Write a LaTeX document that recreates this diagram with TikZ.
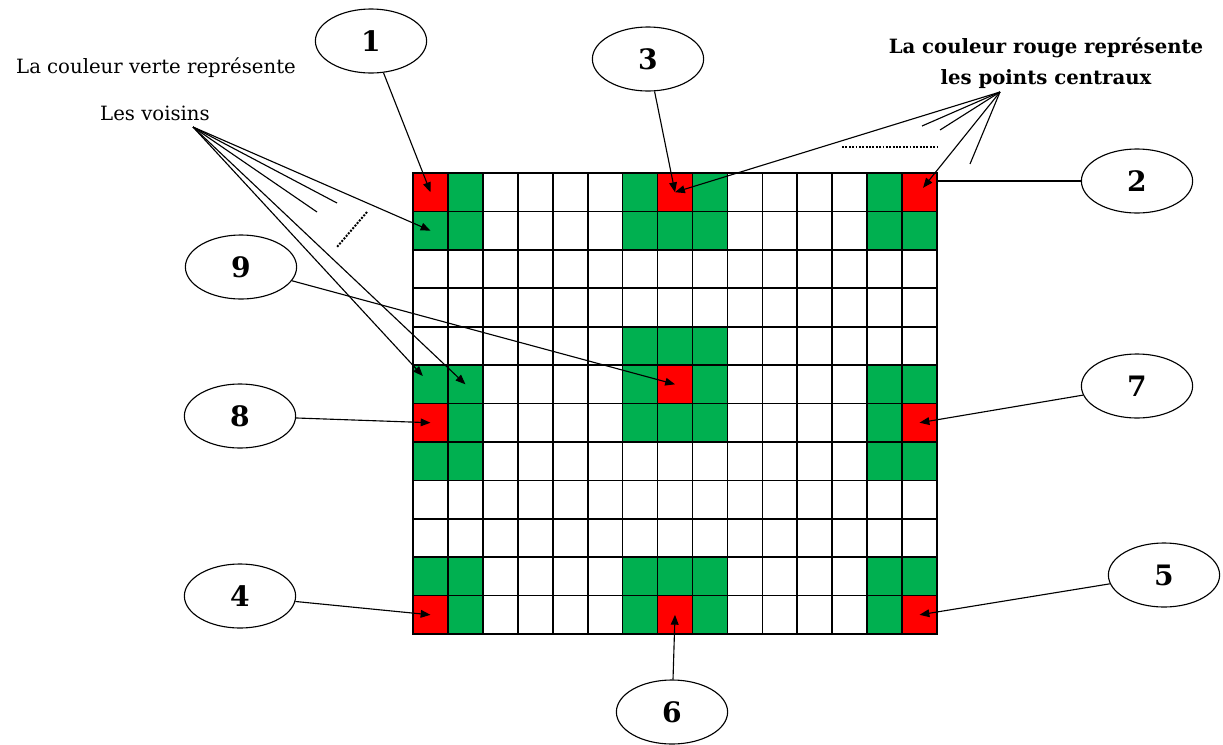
\documentclass[tikz,border=0pt]{standalone}
\usepackage{fontspec}
\setmainfont{DejaVu Serif}
\usetikzlibrary{arrows.meta, positioning, shapes.geometric}
\definecolor{voisgreen}{RGB}{0,176,80}
\definecolor{centred}{RGB}{255,0,0}

\begin{document}
\begin{tikzpicture}[
  x=0.025cm, y=-0.025cm,
  cell/.style={
    rectangle, draw, line width=1.2pt,
    minimum width=0.873cm, minimum height=0.9605cm,
    inner sep=0pt, outer sep=0pt
  },
  num/.style={
    ellipse, draw, line width=0.8pt,
    minimum width=2.78cm, minimum height=1.6cm,
    font=\fontsize{20}{20}\selectfont\bfseries
  },
  label/.style={font=\fontsize{14}{18}\selectfont, inner sep=0pt},
  pointer/.style={-{Triangle[length=7pt,width=5.5pt]}, line width=0.8pt},
  tick/.style={line width=0.8pt},
  etc/.style={densely dotted, line width=1.4pt}
]
  \useasboundingbox (0,0) rectangle (1223,744);

  % Grid 12 x 15
  \foreach \r in {0,...,11}
    \foreach \c in {0,...,14}
      \node[cell] (c-\r-\c) at ({430.5+34.93*\c},{192.2+38.42*\r}) {};

  % Neighbours (green) and central points (red)
  \foreach \r/\c in {0/1,0/6,0/8,0/13, 1/0,1/1,1/6,1/7,1/8,1/13,1/14,
                     4/6,4/7,4/8, 5/0,5/1,5/6,5/8,5/13,5/14,
                     6/1,6/6,6/7,6/8,6/13, 7/0,7/1,7/13,7/14,
                     10/0,10/1,10/6,10/7,10/8,10/13,10/14,
                     11/1,11/6,11/8,11/13}
    \node[cell, fill=voisgreen] at (c-\r-\c) {};
  \foreach \r/\c in {0/0,0/7,0/14, 5/7, 6/0,6/14, 11/0,11/7,11/14}
    \node[cell, fill=centred] at (c-\r-\c) {};

  % Numbered ellipses
  \node[num] (n1) at (371,41)   {1};
  \node[num] (n3) at (648,59)   {3};
  \node[num] (n2) at (1137,181) {2};
  \node[num] (n9) at (241,267)  {9};
  \node[num] (n8) at (240,416)  {8};
  \node[num] (n7) at (1137,386) {7};
  \node[num] (n4) at (240,596)  {4};
  \node[num] (n5) at (1164,575) {5};
  \node[num] (n6) at (672,712)  {6};

  \draw[pointer] (n1) -- (c-0-0.center);
  \draw[pointer] (n3) -- (c-0-7.center);
  \draw[tick]    (n2) -- (n2 -| c-0-14.east);
  \draw[pointer] (n9) -- (c-5-7.center);
  \draw[pointer] (n8) -- (c-6-0.center);
  \draw[pointer] (n7) -- (c-6-14.center);
  \draw[pointer] (n4) -- (c-11-0.center);
  \draw[pointer] (n5) -- (c-11-14.center);
  \draw[pointer] (n6) -- (c-11-7.center);

  % Legend: green
  \node[label] (verte)   at (156,68)  {La couleur verte représente};
  \node[label] (voisins) at (155,113) {Les voisins};
  \coordinate (gtip) at (193,127);
  \coordinate (g-s1) at (337,203);
  \coordinate (g-s2) at (317,212);
  \coordinate (g-d1) at (367,212);
  \coordinate (g-d2) at (337,247);
  \draw[pointer] (gtip) -- (c-1-0.center);
  \draw[pointer, shorten >=8pt] (gtip) -- (c-5-0.center);
  \draw[pointer] (gtip) -- (c-5-1.center);
  \draw[tick] (gtip) -- (g-s1);
  \draw[tick] (gtip) -- (g-s2);
  \draw[etc] (g-d1) -- (g-d2);

  % Legend: red
  \node[label, font=\fontsize{14}{22}\selectfont\bfseries, align=center]
        (rouge) at (1046,63) {La couleur rouge représente\\les points centraux};
  \coordinate (rtip) at (1000,92);
  \coordinate (r-s1) at (922,126);
  \coordinate (r-s2) at (940,130);
  \coordinate (r-s3) at (970,164);
  \coordinate (r-d1) at (842,147);
  \coordinate (r-d2) at (938,147);
  \draw[pointer] (rtip) -- (c-0-7.center);
  \draw[pointer, shorten >=4pt] (rtip) -- (c-0-14.center);
  \draw[tick] (rtip) -- (r-s1);
  \draw[tick] (rtip) -- (r-s2);
  \draw[tick] (rtip) -- (r-s3);
  \draw[etc] (r-d1) -- (r-d2);
\end{tikzpicture}
\end{document}
